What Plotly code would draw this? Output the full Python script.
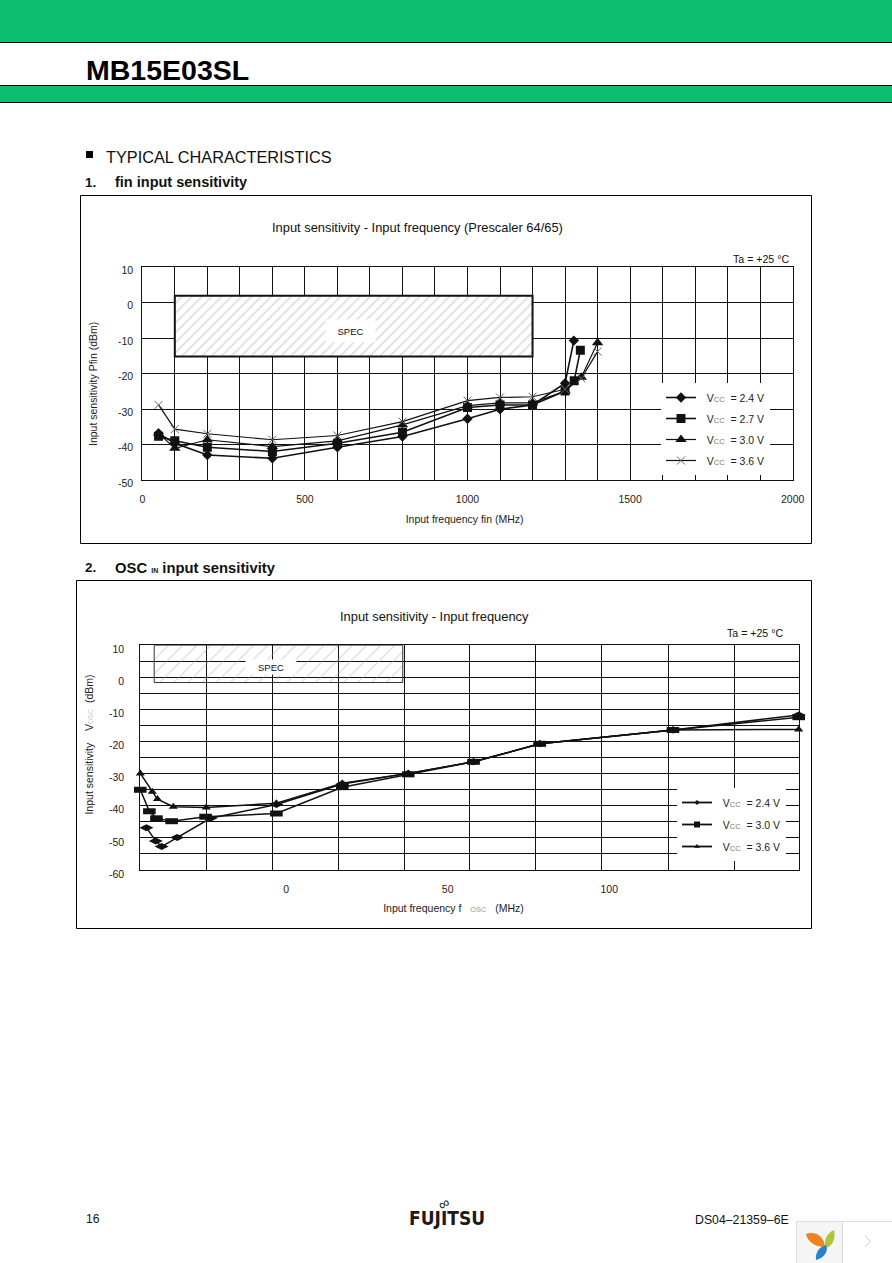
import plotly.graph_objects as go

W, H = 892, 1263
FONT = "Liberation Sans"
INK = "#111111"

# ---------- Chart 1: fin input sensitivity ----------
fin_x_24 = [50, 100, 200, 400, 600, 800, 1000, 1100, 1200, 1300, 1327]
fin_y_24 = [-36.8, -39.6, -42.9, -43.8, -40.7, -37.7, -32.7, -30.0, -28.8, -22.7, -10.7]
fin_x_27 = [50, 100, 200, 400, 600, 800, 1000, 1100, 1200, 1300, 1328, 1347]
fin_y_27 = [-37.6, -38.9, -40.7, -41.9, -39.6, -36.5, -29.5, -28.8, -28.8, -24.9, -22.0, -13.4]
fin_x_30 = [50, 100, 200, 400, 600, 800, 1000, 1100, 1200, 1300, 1350, 1400]
fin_y_30 = [-36.8, -41.0, -38.6, -40.5, -38.9, -34.4, -29.0, -28.2, -28.2, -24.9, -21.0, -11.3]
fin_x_36 = [50, 100, 200, 400, 600, 800, 1000, 1100, 1200, 1300, 1350, 1400]
fin_y_36 = [-28.8, -35.6, -36.9, -38.6, -37.4, -33.5, -27.6, -26.7, -26.5, -24.4, -21.3, -13.8]
fin_spec_x = [100, 1200]
fin_spec_y = [-15.2, 1.9]
fin_y_ticks = [-50, -40, -30, -20, -10, 0, 10]
fin_y_text = ["-50", "-40", "-30", "-20", "-10", "0", "10"]

# ---------- Chart 2: OSC IN input sensitivity ----------
osc_x_24 = [-43.2, -40.3, -38.5, -33.7, -23.4, -3.0, 17.4, 37.8, 58.0, 78.5, 119.7, 158.6]
osc_y_24 = [-46.8, -51.0, -52.7, -49.9, -43.9, -39.6, -33.2, -29.9, -26.3, -20.7, -16.4, -11.7]
osc_x_30 = [-45.1, -42.3, -40.1, -35.4, -24.9, -3.0, 17.4, 37.8, 58.0, 78.5, 119.7, 158.6]
osc_y_30 = [-35.0, -41.7, -43.9, -44.8, -43.4, -42.4, -34.2, -30.2, -26.3, -20.7, -16.4, -12.4]
osc_x_36 = [-45.1, -41.4, -39.8, -34.9, -24.7, -3.0, 17.4, 37.8, 58.0, 78.5, 119.7, 158.6]
osc_y_36 = [-29.9, -35.6, -37.9, -40.3, -40.5, -39.2, -33.0, -29.9, -26.3, -20.7, -16.4, -16.2]
osc_spec_x = [-40.8, 36.1]
osc_spec_y = [-1.6, 10]
osc_x_range = [-45.1, 158.6]
osc_x_grid = [-24.7, -4.3, 16.1, 36.5, 56.6, 77.1, 97.5, 118.2, 138.6]
osc_x_ticks = [0, 50, 100]
osc_y_ticks = [-60, -50, -40, -30, -20, -10, 0, 10]
osc_y_text = ["-60", "-50", "-40", "-30", "-20", "-10", "0", "10"]

fin_names = ["2.4", "2.7", "3.0", "3.6"]
osc_names = ["2.4", "3.0", "3.6"]


def vcc(v):
    return f'&nbsp;&nbsp;V<span style="font-size:7.5px;color:#777">CC</span>&nbsp;&nbsp;= {v} V'


def X(p):
    return p / W


def Y(p):
    return 1 - p / H


def rect(x0, y0, x1, y1, fill=None, line=None, lw=1, layer="above"):
    return dict(type="rect", xref="paper", yref="paper", x0=X(x0), x1=X(x1), y0=Y(y0), y1=Y(y1),
                fillcolor=fill or "rgba(0,0,0,0)", line=dict(color=line or "rgba(0,0,0,0)", width=lw if line else 0),
                layer=layer)


def path(points, fill=None, line=None, lw=1):
    d = ""
    for cmd, *pts in points:
        d += cmd + " " + " ".join(f"{X(px):.5f},{Y(py):.5f}" for px, py in pts) + " "
    return dict(type="path", xref="paper", yref="paper", path=d.strip(),
                fillcolor=fill or "rgba(0,0,0,0)", line=dict(color=line or "rgba(0,0,0,0)", width=lw if line else 0))


def label(text, px, py, size=10, anchor="center", color=INK, bold=False, family=FONT, **kw):
    if bold:
        text = f"<b>{text}</b>"
    return dict(text=text, xref="paper", yref="paper", x=X(px), y=Y(py), showarrow=False, xanchor=anchor,
                yanchor="middle", font=dict(size=size, color=color, family=family), **kw)


GREEN = "#0bbe70"
shapes = [
    rect(0, 0, W, 42, fill=GREEN),
    rect(0, 42, W, 43, fill="#000000"),
    rect(0, 85, W, 102, fill=GREEN),
    rect(0, 85, W, 86, fill="#000000"),
    rect(0, 102, W, 103, fill="#000000"),
    rect(86, 151, 93, 158, fill="#000000"),
    rect(80.5, 195.5, 811.5, 543.5, line="#000000", lw=1, layer="below"),
    rect(76.5, 580.5, 811.5, 928.5, line="#000000", lw=1, layer="below"),
    # viewer widget, bottom right
    rect(796.5, 1221.5, 842.5, 1264, fill="#f5f5f5", line="#dddddd"),
    rect(842.5, 1221.5, 893, 1264, fill="#ffffff", line="#dddddd"),
    path([("M", (865, 1236)), ("L", (870.5, 1241.5)), ("L", (865, 1247))], line="#cccccc"),
    path([("M", (806, 1234)), ("C", (814, 1231), (824, 1235), (825, 1247)), ("C", (816, 1247), (808, 1243), (806, 1234)), ("Z",)], fill="#ee8120"),
    path([("M", (834, 1230)), ("C", (836, 1240), (832, 1246), (826, 1248)), ("C", (823, 1240), (827, 1233), (834, 1230)), ("Z",)], fill="#a9c83c"),
    path([("M", (816, 1260)), ("C", (815, 1253), (819, 1247), (826, 1245)), ("C", (829, 1251), (824, 1258), (816, 1260)), ("Z",)], fill="#2a7fce"),
]

annotations = [
    label("MB15E03SL", 83.5, 70, size=28.5, anchor="left", color="#000000", bold=True),
    label("TYPICAL CHARACTERISTICS", 103.5, 157, size=16.3, anchor="left"),
    label("1.", 83, 182, size=13.5, anchor="left", bold=True),
    label("fin input sensitivity", 113, 182, size=14.5, anchor="left", bold=True),
    label("2.", 83, 567.5, size=13.5, anchor="left", bold=True),
    label('OSC <span style="font-size:7px">IN</span> input sensitivity', 113, 567.5, size=14.8, anchor="left", bold=True),
    label("Input sensitivity - Input frequency (Prescaler 64/65)", 417, 228, size=12.9),
    label("Input sensitivity - Input frequency", 434, 617, size=12.9),
    label("Ta = +25 °C", 791, 258.5, size=10.6, anchor="right"),
    label("Ta = +25 °C", 785, 632.5, size=10.6, anchor="right"),
    label("16", 83.5, 1219, size=12, anchor="left"),
    label("DS04–21359–6E", 791, 1219.5, size=12.3, anchor="right"),
    label("<b>FUJITSU</b>", 446.5, 1218, size=19, color="#231815", family="DejaVu Sans Condensed"),
    label("∞", 443, 1203, size=15, color="#231815", textangle=-30),
    label("SPEC", 350.5, 331, size=9.5, bgcolor="#ffffff", width=47, height=20),
    label("SPEC", 270.5, 667, size=9.5, bgcolor="#ffffff", width=48, height=12),
]

fig = go.Figure()

# spec regions
fig.add_trace(go.Bar(x=[sum(fin_spec_x) / 2], y=[fin_spec_y[1] - fin_spec_y[0]], base=[fin_spec_y[0]],
                     width=[fin_spec_x[1] - fin_spec_x[0]], xaxis="x", yaxis="y", showlegend=False,
                     hoverinfo="skip",
                     marker=dict(color="#ffffff", line=dict(color="#111111", width=2),
                                 pattern=dict(shape="/", size=7, solidity=0.18, fgcolor="#a8a8a8", bgcolor="#ffffff"))))
fig.add_trace(go.Bar(x=[sum(osc_spec_x) / 2], y=[osc_spec_y[1] - osc_spec_y[0]], base=[osc_spec_y[0]],
                     width=[osc_spec_x[1] - osc_spec_x[0]], xaxis="x2", yaxis="y2", showlegend=False,
                     hoverinfo="skip",
                     marker=dict(color="rgba(0,0,0,0)", line=dict(color="#333333", width=1),
                                 pattern=dict(shape="/", size=10, solidity=0.1, fgcolor="#aaaaaa", bgcolor="rgba(0,0,0,0)"))))

# chart 1 series
fin_data = [(fin_x_24, fin_y_24, "diamond", 8), (fin_x_27, fin_y_27, "square", 9),
            (fin_x_30, fin_y_30, "triangle-up", 10), (fin_x_36, fin_y_36, "x-thin", 8)]
for name, (xs, ys, sym, size) in zip(fin_names, fin_data):
    thin = sym == "x-thin"
    fig.add_trace(go.Scatter(x=xs, y=ys, mode="lines+markers", name=vcc(name), legend="legend", legendgroup="f" + name,
                             xaxis="x", yaxis="y",
                             line=dict(color="#111111", width=1.2 if name in ("3.0", "3.6") else 1.6),
                             marker=dict(symbol=sym, size=size, color="#111111",
                                         line=dict(color="#666666" if thin else "#111111", width=1 if thin else 0))))

# chart 2 series
osc_data = [(osc_x_24, osc_y_24, "diamond-wide", 10), (osc_x_30, osc_y_30, "line-ew", 9),
            (osc_x_36, osc_y_36, "triangle-up", 8)]
for name, (xs, ys, sym, size) in zip(osc_names, osc_data):
    bar = sym == "line-ew"
    fig.add_trace(go.Scatter(x=xs, y=ys, mode="lines+markers", showlegend=False, xaxis="x2", yaxis="y2",
                             line=dict(color="#111111", width=1.5),
                             marker=dict(symbol=sym, size=size, color="#111111",
                                         line=dict(color="#111111", width=6 if bar else 0)),
                             cliponaxis=False))
# chart 2 legend keys have much smaller markers than the data
for name, sym, size in zip(osc_names, ["diamond", "square", "triangle-up"], [4, 6, 5]):
    fig.add_trace(go.Scatter(x=[None], y=[None], mode="lines+markers", name=vcc(name), legend="legend2",
                             legendgroup="o" + name, xaxis="x2", yaxis="y2",
                             line=dict(color="#111111", width=1.8),
                             marker=dict(symbol=sym, size=size, color="#111111")))

tick = dict(size=10.5, color="#222222", family=FONT)
ttl = dict(size=10.5, color="#222222", family=FONT)
frame = dict(showline=True, mirror=True, linecolor=INK, linewidth=1, showgrid=True, gridcolor=INK, gridwidth=1,
             ticks="", zeroline=False, tickfont=tick, automargin=False)

pad = "&nbsp;"
fig.update_layout(
    width=W, height=H, margin=dict(l=0, r=0, t=0, b=0), paper_bgcolor="#ffffff", plot_bgcolor="#ffffff",
    font=dict(family=FONT), barmode="overlay", hovermode=False,
    shapes=shapes, annotations=annotations,
    xaxis=dict(frame, domain=[X(142.3), X(792.7)], range=[0, 2000], tickvals=[0, 500, 1000, 1500, 2000],
               minor=dict(dtick=100, showgrid=True, gridcolor=INK, gridwidth=1), anchor="y", ticklabelstandoff=9,
               title=dict(text="Input frequency fin (MHz)" + pad * 2, font=ttl, standoff=11)),
    yaxis=dict(frame, domain=[Y(480.3), Y(267)], range=[-50, 10], tickvals=fin_y_ticks, ticktext=fin_y_text, anchor="x",
               ticklabelshift=3, ticklabelstandoff=6,
               title=dict(text="Input sensitivity Pfin (dBm)" + pad * 7, font=ttl, standoff=18)),
    xaxis2=dict(frame, domain=[X(140.3), X(798.7)], range=osc_x_range, tickvals=osc_x_ticks, showgrid=False,
                minor=dict(tickvals=osc_x_grid, showgrid=True, gridcolor=INK, gridwidth=1), anchor="y2", ticklabelstandoff=9,
                title=dict(text='Input frequency f&nbsp;&nbsp;&nbsp;<span style="font-size:7.5px;color:#999">OSC</span>&nbsp;&nbsp;&nbsp;(MHz)' + pad * 11, font=ttl, standoff=11)),
    yaxis2=dict(frame, domain=[Y(870), Y(645.3)], range=[-60, 10], tickvals=osc_y_ticks, ticktext=osc_y_text,
                minor=dict(dtick=5, showgrid=True, gridcolor=INK, gridwidth=1), anchor="x2",
                ticklabelshift=4, ticklabelstandoff=13,
                title=dict(text=pad * 9 + 'Input sensitivity&nbsp;&nbsp;&nbsp;&nbsp;V<span style="font-size:7px;color:#ccc">OSC</span>&nbsp;&nbsp;(dBm)', font=ttl, standoff=13)),
    legend=dict(x=X(661), y=Y(383), xanchor="left", yanchor="top", bgcolor="#ffffff", borderwidth=0,
                font=dict(size=10.5, color="#222222", family=FONT), tracegroupgap=2, itemwidth=30, traceorder="grouped"),
    legend2=dict(x=X(677), y=Y(788), xanchor="left", yanchor="top", bgcolor="#ffffff", borderwidth=0,
                 font=dict(size=10.5, color="#222222", family=FONT), tracegroupgap=3, itemwidth=30, traceorder="grouped"),
)

fig.write_html("out.html", post_script="document.body.style.margin='0';", config=dict(displayModeBar=False))
